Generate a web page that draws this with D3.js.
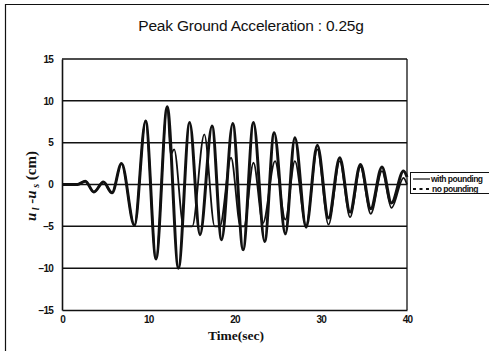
<!DOCTYPE html>
<html>
<head>
<meta charset="utf-8">
<script src="https://cdn.jsdelivr.net/npm/d3@7"></script>
<style>
  html, body { margin: 0; padding: 0; background: #fff; }
  svg { display: block; }
</style>
</head>
<body>
<svg id="chart" width="489" height="351"></svg>
<script>
// Relative displacement u_l - u_s (cm) versus time (sec), PGA 0.25g.
// Each series is given by its turning points (peaks, troughs and contact plateaus).
const noPoundingTime = [0, 1.8, 2.7, 3.7, 4.8, 5.8, 6.9, 8.4, 9.7, 10.9, 12.2, 13.5, 14.8, 16.0, 17.4, 18.5, 19.8, 21.0, 22.2, 23.5, 24.6, 25.9, 27.0, 28.3, 29.6, 30.9, 32.2, 33.4, 34.6, 35.8, 37.1, 38.2, 39.6, 40];
const noPoundingDisp = [0, 0, 0.4, -0.9, 0.3, -1.0, 2.5, -4.9, 7.6, -8.9, 9.3, -10.0, 7.4, -6.0, 7.0, -6.6, 7.3, -7.8, 7.4, -6.8, 6.2, -5.9, 5.6, -5.1, 4.7, -4.0, 3.2, -3.3, 2.4, -2.9, 2.1, -2.2, 1.6, 0.9];

const withPoundingTime = [0, 1.8, 2.7, 3.7, 4.8, 5.8, 6.9, 8.4, 9.7, 10.9, 12.2, 12.6, 13.0, 14.1, 15.1, 16.5, 17.7, 18.3, 19.6, 20.7, 21.1, 22.2, 23.3, 24.7, 25.9, 27.0, 28.3, 29.6, 30.9, 32.2, 33.4, 34.6, 35.8, 37.1, 38.2, 39.6, 40];
const withPoundingDisp = [0, 0, 0.4, -0.9, 0.3, -1.0, 2.5, -4.9, 7.6, -8.9, 9.3, 3.6, 4.2, -5.0, -5.0, 6.0, -5.0, -5.0, 3.2, -5.0, -5.0, 2.6, -4.6, 2.8, -4.2, 2.8, -4.9, 4.2, -4.8, 2.8, -3.9, 2.1, -3.5, 1.6, -2.8, 0.8, 0.0];

const xTicks = [0, 10, 20, 30, 40];
const yTicks = [-15, -10, -5, 0, 5, 10, 15];
const gridValues = [-10, -5, 0, 5, 10, 15];
const seriesNames = ["with pounding", "no pounding"];

const svg = d3.select("#chart");

// outer chart frame
svg.append("path")
  .attr("d", "M5.5,351 L5.5,4.5 L489,4.5")
  .attr("fill", "none").attr("stroke", "#111").attr("stroke-width", 1.2);

svg.append("text")
  .attr("x", 251).attr("y", 31)
  .attr("text-anchor", "middle")
  .attr("font-family", "'Liberation Sans', Arial, sans-serif")
  .attr("font-size", 15.5)
  .attr("letter-spacing", -0.2)
  .attr("fill", "#111")
  .text("Peak Ground Acceleration : 0.25g");

const x = d3.scaleLinear().domain([0, 40]).range([62, 407]);
const y = d3.scaleLinear().domain([-15, 15]).range([310, 59]);

// horizontal gridlines
svg.append("g").selectAll("line").data(gridValues).join("line")
  .attr("x1", x(0)).attr("x2", x(40))
  .attr("y1", d => y(d)).attr("y2", d => y(d))
  .attr("stroke", "#111").attr("stroke-width", 1.5);

// plot border (right side) and axes
svg.append("line")
  .attr("x1", x(40)).attr("x2", x(40)).attr("y1", y(15)).attr("y2", y(-15))
  .attr("stroke", "#111").attr("stroke-width", 1.3);

const yAxis = svg.append("g")
  .attr("transform", `translate(${x(0)},0)`)
  .call(d3.axisLeft(y).tickValues(yTicks).tickSize(0).tickPadding(9).tickFormat(d3.format("d")));
const xAxis = svg.append("g")
  .attr("transform", `translate(0,${y(-15)})`)
  .call(d3.axisBottom(x).tickValues(xTicks).tickSize(0).tickPadding(6).tickFormat(d3.format("d")));

[yAxis, xAxis].forEach(g => {
  g.select(".domain").attr("stroke", "#111").attr("stroke-width", 1.6);
  g.selectAll("text")
    .attr("font-family", "'Liberation Sans', Arial, sans-serif")
    .attr("font-weight", "bold")
    .attr("font-size", 10)
    .attr("letter-spacing", -0.8)
    .attr("fill", "#111");
});

// response curves
const line = d3.line()
  .x(d => x(d[0]))
  .y(d => y(d[1]))
  .curve(d3.curveMonotoneX);

const noPounding = noPoundingTime.map((t, i) => [t, noPoundingDisp[i]]);
const withPounding = withPoundingTime.map((t, i) => [t, withPoundingDisp[i]]);

svg.append("path")
  .datum(noPounding)
  .attr("d", line)
  .attr("fill", "none")
  .attr("stroke", "#111")
  .attr("stroke-width", 3)
  .attr("stroke-linejoin", "round");

svg.append("path")
  .datum(withPounding)
  .attr("d", line)
  .attr("fill", "none")
  .attr("stroke", "#111")
  .attr("stroke-width", 1.8)
  .attr("stroke-linejoin", "round");

// axis titles
svg.append("text")
  .attr("x", 236).attr("y", 340)
  .attr("text-anchor", "middle")
  .attr("font-family", "'Liberation Serif', 'Times New Roman', serif")
  .attr("font-weight", "bold")
  .attr("font-size", 13.5)
  .attr("fill", "#111")
  .text("Time(sec)");

const yTitle = svg.append("text")
  .attr("transform", "translate(36,186) rotate(-90)")
  .attr("text-anchor", "middle")
  .attr("font-family", "'Liberation Serif', 'Times New Roman', serif")
  .attr("font-weight", "bold")
  .attr("font-size", 15)
  .attr("fill", "#111");
yTitle.append("tspan").attr("font-style", "italic").text("u");
yTitle.append("tspan").attr("font-style", "italic").attr("font-size", 10).attr("dy", 3).text(" l");
yTitle.append("tspan").attr("dy", -3).text(" -");
yTitle.append("tspan").attr("font-style", "italic").text("u");
yTitle.append("tspan").attr("font-style", "italic").attr("font-size", 10).attr("dy", 3).text(" s");
yTitle.append("tspan").attr("dy", -3).text(" (cm)");

// legend
const legend = svg.append("g");
legend.append("rect")
  .attr("x", 410.5).attr("y", 172.5).attr("width", 90).attr("height", 21)
  .attr("fill", "#fff").attr("stroke", "#111").attr("stroke-width", 1);
legend.append("line")
  .attr("x1", 413).attr("x2", 430).attr("y1", 179).attr("y2", 179)
  .attr("stroke", "#111").attr("stroke-width", 1.2);
legend.append("line")
  .attr("x1", 413).attr("x2", 431).attr("y1", 189).attr("y2", 189)
  .attr("stroke", "#111").attr("stroke-width", 1.8).attr("stroke-dasharray", "3,3.5");
legend.selectAll("text.lab").data(seriesNames).join("text")
  .attr("class", "lab")
  .attr("x", (d, i) => i === 0 ? 431 : 432)
  .attr("y", (d, i) => 182 + i * 10)
  .attr("font-family", "'Liberation Sans', Arial, sans-serif")
  .attr("font-size", 8.5)
  .attr("font-weight", "bold")
  .attr("letter-spacing", -0.5)
  .attr("fill", "#111")
  .text(d => d);
</script>
</body>
</html>
